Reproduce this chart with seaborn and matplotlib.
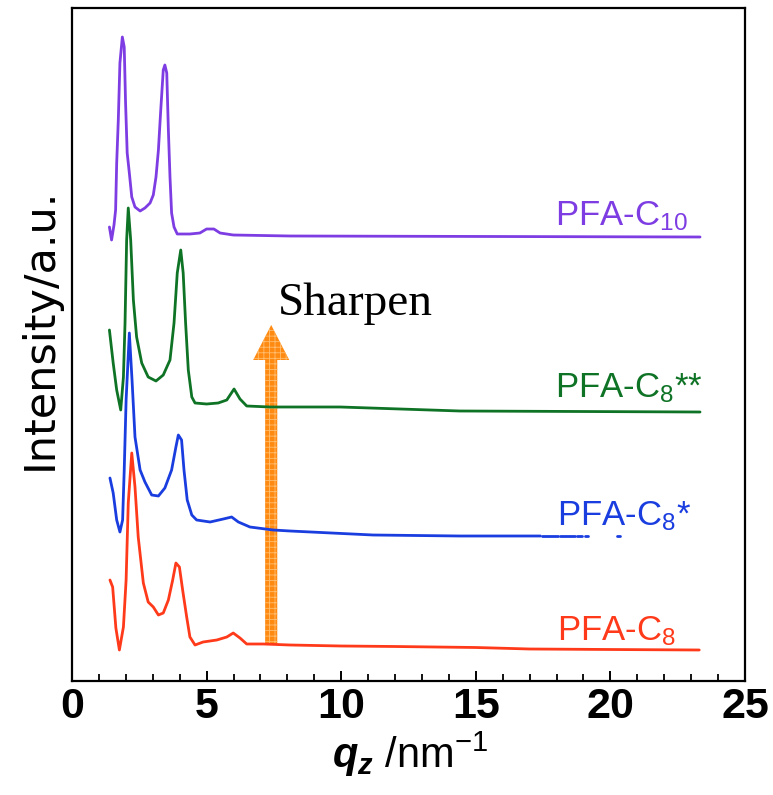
import numpy as np
import pandas as pd
import matplotlib
matplotlib.use("Agg")
import matplotlib.pyplot as plt
import seaborn as sns
from matplotlib.patches import FancyArrow

# q_z (nm^-1) and intensity above each curve's own baseline
q_c8 = [1.41, 1.51, 1.63, 1.76, 1.91, 2.01, 2.09, 2.22, 2.34, 2.46, 2.65, 2.83, 3.02, 3.21,
        3.39, 3.58, 3.74, 3.86, 3.99, 4.11, 4.26, 4.38, 4.57, 4.87, 5.38, 5.75, 5.99, 6.24,
        6.49, 7.11, 8.10, 10.0, 12.0, 15.0, 17.0, 20.0, 23.3]
i_c8 = [70, 63, 22, 0, 23, 70, 147, 197, 163, 113, 67, 48, 43, 35,
        37, 50, 70, 87, 83, 60, 33, 13, 5, 8, 10, 13, 17, 12,
        6, 6, 5, 4, 3.5, 2.5, 1, 0.5, 0]

q_c8s = [1.41, 1.53, 1.66, 1.78, 1.88, 1.94, 2.01, 2.13, 2.23, 2.34, 2.53, 2.71, 2.96, 3.21,
         3.45, 3.70, 3.86, 3.95, 4.07, 4.16, 4.28, 4.45, 4.63, 5.13, 5.62, 5.93, 6.18, 6.61,
         7.47, 8.10, 11.18, 14.41, 16.64, 17.40,
         17.45, 18.05, 18.13, 18.69, 18.75, 18.94, 19.06, 19.17, 20.23, 20.36]
i_c8s = [58, 43, 16, 4, 16, 66, 136, 203, 156, 99, 66, 54, 41, 40,
         48, 66, 89, 101, 96, 66, 36, 21, 16, 14, 17, 19, 14, 9,
         6, 5, 1, 0, 0, 0,
         0, 0, 0, 0, 0, 0, 0, 0, 0, 0]
seg_c8s = [0] * 34 + [1, 1, 2, 2, 3, 3, 4, 4, 5, 5]

q_c8ss = [1.39, 1.53, 1.66, 1.81, 1.91, 1.97, 2.03, 2.09, 2.18, 2.28, 2.40, 2.59, 2.83, 3.12,
          3.39, 3.64, 3.79, 3.91, 4.04, 4.13, 4.22, 4.32, 4.45, 4.57, 5.00, 5.43, 5.75, 6.02,
          6.24, 6.49, 7.36, 9.96, 14.41, 23.33]
i_c8ss = [82, 49, 22, 2, 35, 89, 172, 204, 172, 112, 75, 49, 35, 31,
          37, 52, 89, 139, 162, 139, 89, 42, 15, 9, 8, 9, 12, 23,
          13, 6, 5, 5, 1, 0]

q_c10 = [1.39, 1.47, 1.56, 1.62, 1.66, 1.72, 1.78, 1.87, 1.94, 1.99, 2.05, 2.13, 2.22, 2.34,
         2.53, 2.71, 2.90, 3.02, 3.12, 3.21, 3.29, 3.39, 3.45, 3.52, 3.58, 3.64, 3.70, 3.79,
         3.91, 4.38, 4.75, 5.00, 5.27, 5.50, 5.99, 8.10, 23.33]
i_c10 = [10, -3, 12, 27, 74, 117, 174, 200, 190, 134, 84, 64, 40, 30,
         26, 29, 34, 42, 60, 87, 124, 167, 172, 164, 107, 60, 24, 10,
         3, 3, 4, 8, 8, 4, 2, 1, 0]

names = ["PFA-C$_8$", "PFA-C$_8$*", "PFA-C$_8$**", "PFA-C$_{10}$"]
offsets = [31, 145, 269, 444]
colors = ["#ff3a1a", "#1a3de0", "#0f7326", "#7d3de3"]
label_pos = [(18.02, 41), (18.02, 156), (17.94, 284), (17.94, 456)]

frames = []
for k, (q, i, seg) in enumerate([(q_c8, i_c8, [0] * len(q_c8)),
                                  (q_c8s, i_c8s, seg_c8s),
                                  (q_c8ss, i_c8ss, [0] * len(q_c8ss)),
                                  (q_c10, i_c10, [0] * len(q_c10))]):
    frames.append(pd.DataFrame({"q": q, "I": np.array(i, float) + offsets[k],
                                "seg": seg, "sample": names[k]}))
df = pd.concat(frames, ignore_index=True)

sns.set_theme(style="ticks")
plt.rcParams["font.family"] = ["Liberation Sans", "DejaVu Sans"]
plt.rcParams["mathtext.fontset"] = "custom"
plt.rcParams["mathtext.rm"] = "Liberation Sans"
plt.rcParams["mathtext.it"] = "Liberation Sans:italic:bold"
plt.rcParams["hatch.linewidth"] = 0.6
plt.rcParams["text.color"] = "black"
plt.rcParams["axes.labelcolor"] = "black"
plt.rcParams["xtick.color"] = "black"

fig = plt.figure(figsize=(7.73, 7.95), dpi=100)
ax = fig.add_axes([72 / 773, 114 / 795, 673 / 773, 673 / 795])

for k, name in enumerate(names):
    sub = df[df["sample"] == name]
    sns.lineplot(data=sub, x="q", y="I", units="seg", estimator=None, sort=False,
                 color=colors[k], linewidth=2.0, ax=ax, legend=False)
    ax.text(label_pos[k][0], label_pos[k][1], name, color=colors[k], fontsize=25,
            ha="left", va="baseline")

# orange "Sharpen" arrow
arrow = FancyArrow(7.4, offsets[0] + 5, 0, 320, width=0.45, head_width=1.34,
                   head_length=35, length_includes_head=True,
                   facecolor="#ff8a12", edgecolor="#ffbe70", hatch="+++", linewidth=0)
ax.add_patch(arrow)
ax.text(7.65, 366, "Sharpen", family="Liberation Serif", fontsize=34,
        ha="left", va="baseline", color="black")

ax.set_xlim(0, 25)
ax.set_ylim(0, 673)
ax.set_xticks([0, 5, 10, 15, 20, 25])
ax.set_xticks(np.arange(0, 26, 1), minor=True)
ax.set_yticks([])
ax.tick_params(axis="x", which="major", direction="in", length=7, width=1.4,
               labelsize=31, pad=4, top=False, labelcolor="black", color="black")
ax.tick_params(axis="x", which="minor", direction="in", length=5, width=1.3, top=False,
               color="black")
for lab in ax.get_xticklabels():
    lab.set_fontweight("bold")
for s in ax.spines.values():
    s.set_visible(True)
    s.set_linewidth(1.6)
    s.set_color("black")

ax.set_xlabel("$q_z$ /nm$^{-1}$", fontsize=30, va="baseline")
ax.xaxis.set_label_coords(0.502, -0.129)
ax.set_ylabel("Intensity/a.u.", fontsize=31, family="DejaVu Sans", va="center")
ax.yaxis.set_label_coords(-0.0475, 0.524)

fig.savefig("out.png", dpi=100)
